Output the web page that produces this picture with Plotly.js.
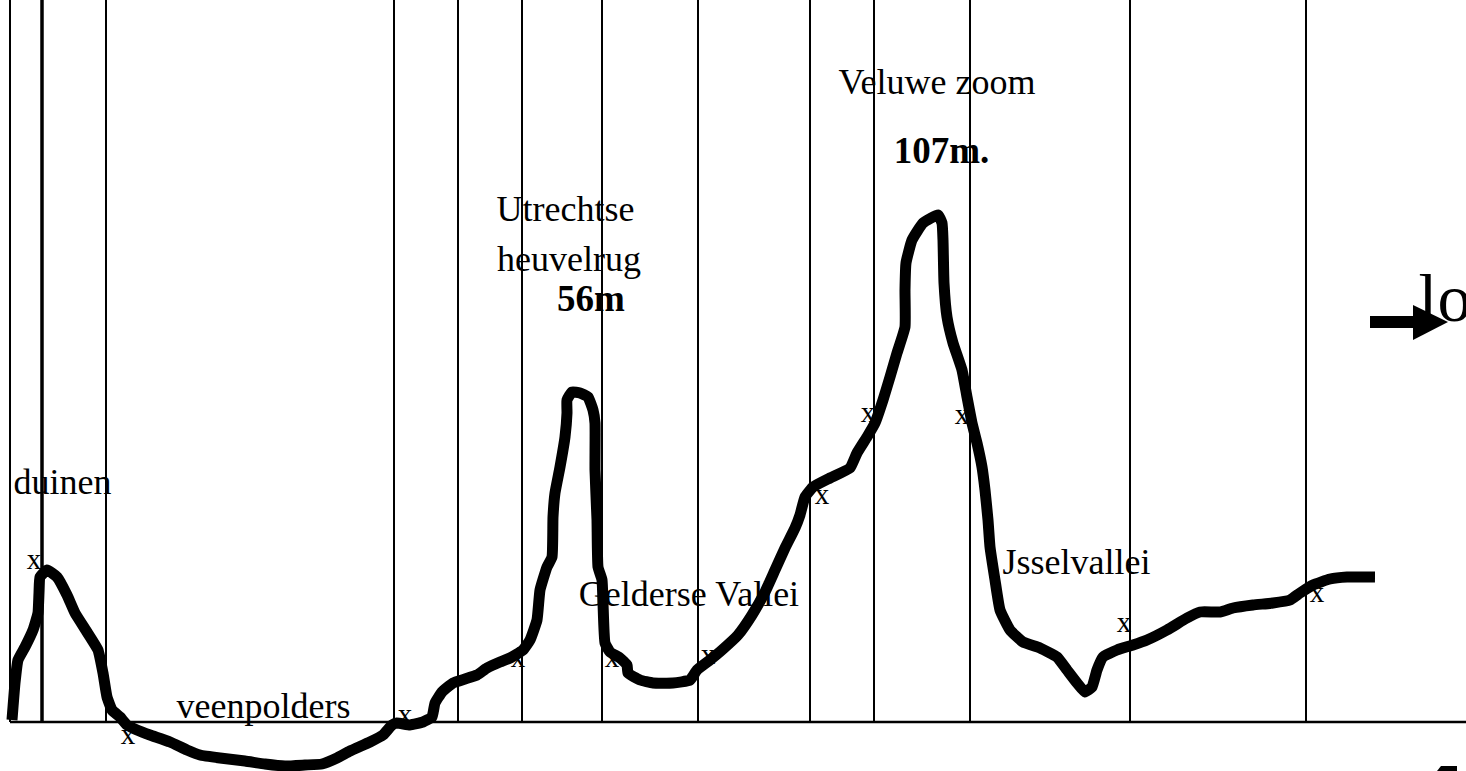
<!DOCTYPE html>
<html>
<head>
<meta charset="utf-8">
<script src="https://cdn.plot.ly/plotly-3.0.1.min.js"></script>
<style>html,body{margin:0;padding:0;background:#fff;}#chart{width:1466px;height:771px;}</style>
</head>
<body>
<div id="chart"></div>
<script>
// Profile of the terrain (distance along section, height above base line)
const afstand = [12,15,18,25,33,38,39,40,47,57,67,75,87,98,103,107,112,120,127,137,150,170,187,200,220,245,265,285,305,322,337,350,370,383,392,397,410,423,432,435,442,453,465,477,487,500,510,523,530,537,540,547,552,553,555,560,565,567,567,572,580,588,593,595,595,597,598,602,603,605,610,620,627,628,640,653,673,690,697,710,722,738,752,765,775,785,795,800,805,813,830,850,857,867,875,883,890,897,905,905,906,912,923,938,942,943,944,947,953,962,967,972,977,982,985,988,990,995,1000,1010,1023,1040,1057,1067,1077,1085,1092,1097,1103,1117,1133,1147,1167,1187,1200,1220,1233,1253,1273,1290,1300,1313,1330,1347,1375];
const hoogte = [2,39,62,75,92,109,129,145,152,145,127,109,90,72,49,25,12,5,-3,-8,-13,-20,-28,-33,-36,-39,-42,-44,-43,-42,-36,-29,-20,-13,-3,-1,-3,0,5,19,30,39,43,47,54,60,64,72,82,102,132,155,165,205,229,255,285,309,322,330,329,325,312,299,252,202,155,142,119,79,70,64,57,49,42,39,39,42,52,62,72,87,107,130,152,174,194,207,225,235,244,254,269,285,299,322,345,369,395,432,459,482,499,507,499,482,439,405,379,352,325,299,279,255,232,202,175,142,112,92,80,74,65,52,39,30,35,52,65,72,77,82,92,104,110,110,114,117,119,122,129,137,143,145,145];

// Section boundaries (vertical lines)
const grenzen = [10, 106, 394, 458, 522, 602, 698, 810, 874, 970, 1130, 1306];
const kustGrens = [42];
const grensTop = 740;
const basisLijnX = [10, 1466];

// Region labels
const labelTekst = ['duinen', 'veenpolders', 'Utrechtse', 'heuvelrug', 'Gelderse Vallei', 'Veluwe zoom', 'Jsselvallei'];
const labelX = [62.5, 263.5, 565.5, 569, 689, 937, 1076.5];
const labelY = [237, 13, 510, 460, 125, 637, 157];

// Heights (bold)
const hoogteTekst = ['56m', '107m.'];
const hoogteX = [591, 941.5];
const hoogteY = [420, 568];

// Measurement points
const puntX = [34, 128, 405, 518, 612, 708, 822, 868, 962, 1124, 1317];
const puntY = [160, -15, 5, 62, 62, 65, 225, 307, 305, 97, 127];

// Direction label
const richtingTekst = ['lo'];
const richtingX = [1445];
const richtingY = [418];

function verticals(xs) {
  const x = [], y = [];
  xs.forEach(v => { x.push(v, v, null); y.push(0, grensTop, null); });
  return {x, y};
}

const FONT = 'Liberation Serif, Times New Roman, serif';
const g = verticals(grenzen);
const k = verticals(kustGrens);

const traces = [
  {x: labelX, y: labelY, text: labelTekst, mode: 'text', textposition: 'middle center',
   textfont: {family: FONT, size: 36, color: '#000'}, hoverinfo: 'skip'},
  {x: hoogteX, y: hoogteY, text: hoogteTekst.map(t => '<b>' + t + '</b>'), mode: 'text', textposition: 'middle center',
   textfont: {family: FONT, size: 37, color: '#000'}, hoverinfo: 'skip'},
  {x: puntX, y: puntY, text: puntX.map(() => 'x'), mode: 'text', textposition: 'middle center',
   textfont: {family: FONT, size: 29, color: '#000'}, hoverinfo: 'skip'},
  {x: richtingX, y: richtingY, text: richtingTekst, mode: 'text', textposition: 'middle center',
   textfont: {family: FONT, size: 68, color: '#000'}, hoverinfo: 'skip', cliponaxis: false},
  {x: g.x, y: g.y, mode: 'lines', line: {color: '#000', width: 2}, hoverinfo: 'skip'},
  {x: k.x, y: k.y, mode: 'lines', line: {color: '#000', width: 3.5}, hoverinfo: 'skip'},
  {x: basisLijnX, y: [0, 0], mode: 'lines', line: {color: '#000', width: 2.5}, hoverinfo: 'skip'},
  {x: afstand, y: hoogte, mode: 'lines', line: {color: '#000', width: 11, shape: 'spline', smoothing: 0.4}, hoverinfo: 'skip'}
];

const layout = {
  width: 1466, height: 771,
  margin: {l: 0, r: 0, t: 0, b: 0, pad: 0},
  paper_bgcolor: '#fff', plot_bgcolor: '#fff',
  showlegend: false,
  xaxis: {range: [0, 1466], visible: false, fixedrange: true},
  yaxis: {range: [-49, 722], visible: false, fixedrange: true},
  shapes: [
    {type: 'rect', xref: 'x', yref: 'y', x0: 1370, x1: 1415, y0: 394, y1: 406, fillcolor: '#000', line: {width: 0}},
    {type: 'path', xref: 'x', yref: 'y', path: 'M 1413 417 L 1413 382 L 1448 400 Z', fillcolor: '#000', line: {width: 0}},
    {type: 'path', xref: 'x', yref: 'y', path: 'M 1437 -49 L 1441 -44 L 1457 -44 L 1457 -49 Z', fillcolor: '#000', line: {width: 0}}
  ]
};

Plotly.newPlot('chart', traces, layout, {displayModeBar: false, staticPlot: true});
</script>
</body>
</html>
